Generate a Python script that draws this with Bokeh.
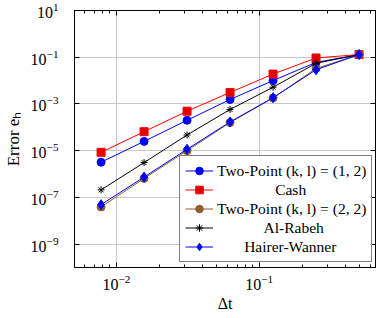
from bokeh.plotting import figure
from bokeh.models import LogAxis, FixedTicker, Legend, LegendItem, CustomJSTickFormatter
from bokeh.embed import file_html
from bokeh.resources import INLINE

# ---- data ----
dt = [0.0078125, 0.015625, 0.03125, 0.0625, 0.125, 0.25, 0.5]
two_point_12 = [3.2e-6, 2.5e-5, 2.0e-4, 1.55e-3, 1.0e-2, 0.06, 0.13]
cash = [8.5e-6, 6.5e-5, 4.9e-4, 3.1e-3, 1.9e-2, 0.093, 0.13]
two_point_22 = [3.9e-8, 6.5e-7, 1.0e-5, 1.6e-4, 1.8e-3, 0.033, 0.13]
al_rabeh = [2.1e-7, 3.1e-6, 4.7e-5, 5.8e-4, 5.2e-3, 0.055, 0.13]
hairer_wanner = [4.9e-8, 7.4e-7, 1.15e-5, 1.7e-4, 1.86e-3, 0.029, 0.13]

series_names = ["Two-Point (k, l) = (1, 2)", "Cash", "Two-Point (k, l) = (2, 2)",
                "Al-Rabeh", "Hairer-Wanner"]

x_major = [0.01, 0.1]
x_minor = [0.006, 0.007, 0.008, 0.009, 0.02, 0.03, 0.04, 0.05, 0.06, 0.07, 0.08,
           0.09, 0.2, 0.3, 0.4, 0.5, 0.6]
y_major = [1e-9, 1e-7, 1e-5, 1e-3, 1e-1, 1e1]

FONT = "Liberation Serif"

p = figure(width=376, height=318, x_axis_type="log", y_axis_type="log",
           x_range=(0.00509, 0.652), y_range=(1e-10, 10),
           output_backend="svg", toolbar_location=None,
           min_border_left=73, min_border_right=1, min_border_top=10,
           min_border_bottom=51)
p.outline_line_color = "black"
p.outline_line_width = 1

xt = FixedTicker(ticks=x_major, minor_ticks=x_minor)
yt = FixedTicker(ticks=y_major, minor_ticks=[])

for ax in p.xaxis:
    ax.ticker = xt
for ax in p.yaxis:
    ax.ticker = yt

p.xgrid.ticker = xt
p.ygrid.ticker = yt
p.grid.grid_line_color = "#c8c8c8"
p.grid.grid_line_width = 1

def style_axis(ax):
    ax.axis_line_color = "black"
    ax.major_tick_in = 5
    ax.major_tick_out = 0
    ax.minor_tick_in = 3
    ax.minor_tick_out = 0
    ax.major_tick_line_color = "black"
    ax.minor_tick_line_color = "black"
    ax.major_label_text_font = FONT
    ax.major_label_text_font_size = "16px"
    ax.major_label_text_color = "black"
    ax.axis_label_text_font = FONT
    ax.axis_label_text_font_size = "16px"
    ax.axis_label_text_font_style = "normal"
    ax.axis_label_text_color = "black"

for ax in p.xaxis + p.yaxis:
    style_axis(ax)

p.xaxis.axis_label = "Δt"
p.xaxis.major_label_standoff = 7
p.xaxis.axis_label_standoff = 2
p.yaxis.axis_label = "Error eₕ"
p.yaxis.axis_label_text_font_size = "17px"
p.yaxis.major_label_standoff = 16
p.yaxis.axis_label_standoff = 5

top = LogAxis(ticker=xt, formatter=CustomJSTickFormatter(code="return ''"))
right = LogAxis(ticker=yt, formatter=CustomJSTickFormatter(code="return ''"))
for ax in (top, right):
    style_axis(ax)
    ax.major_label_text_font_size = "1px"
    ax.major_label_standoff = 0
p.add_layout(top, "above")
p.add_layout(right, "right")

styles = [
    (two_point_12, "#0000ff", "circle", 8, "#0000ff"),
    (cash, "#ff0000", "square", 8, "#e00000"),
    (two_point_22, "#8f5f30", "circle", 8, "#8f5f30"),
    (al_rabeh, "black", "asterisk", 7, "black"),
    (hairer_wanner, "#0000ff", "diamond", 10, "#0000ff"),
]

items = []
for name, (ys, col, mk, sz, fill) in zip(series_names, styles):
    ln = p.line(dt, ys, line_color=col, line_width=1)
    sc = p.scatter(dt, ys, marker=mk, size=sz, fill_color=fill, line_color=col,
                   line_width=1)
    items.append((name, ln, sc))

pad = {"Cash": 15, "Al-Rabeh": 12, "Hairer-Wanner": 7}
legend_items = []
for name, ln, sc in items:
    label = "\u00a0" * pad.get(name, 0) + name
    legend_items.append(LegendItem(label=label, renderers=[ln, sc]))

legend = Legend(items=legend_items, location=(105, 5))
legend.label_text_font = FONT
legend.label_text_font_size = "15.5px"
legend.label_text_color = "black"
legend.glyph_width = 28
legend.glyph_height = 19
legend.label_height = 19
legend.label_standoff = 4
legend.padding = 5
legend.spacing = 0
legend.margin = 0
legend.border_line_color = "black"
legend.border_line_width = 1
legend.background_fill_color = "white"
legend.background_fill_alpha = 1
p.add_layout(legend, "center")

open("out.html", "w").write(file_html(p, INLINE))
